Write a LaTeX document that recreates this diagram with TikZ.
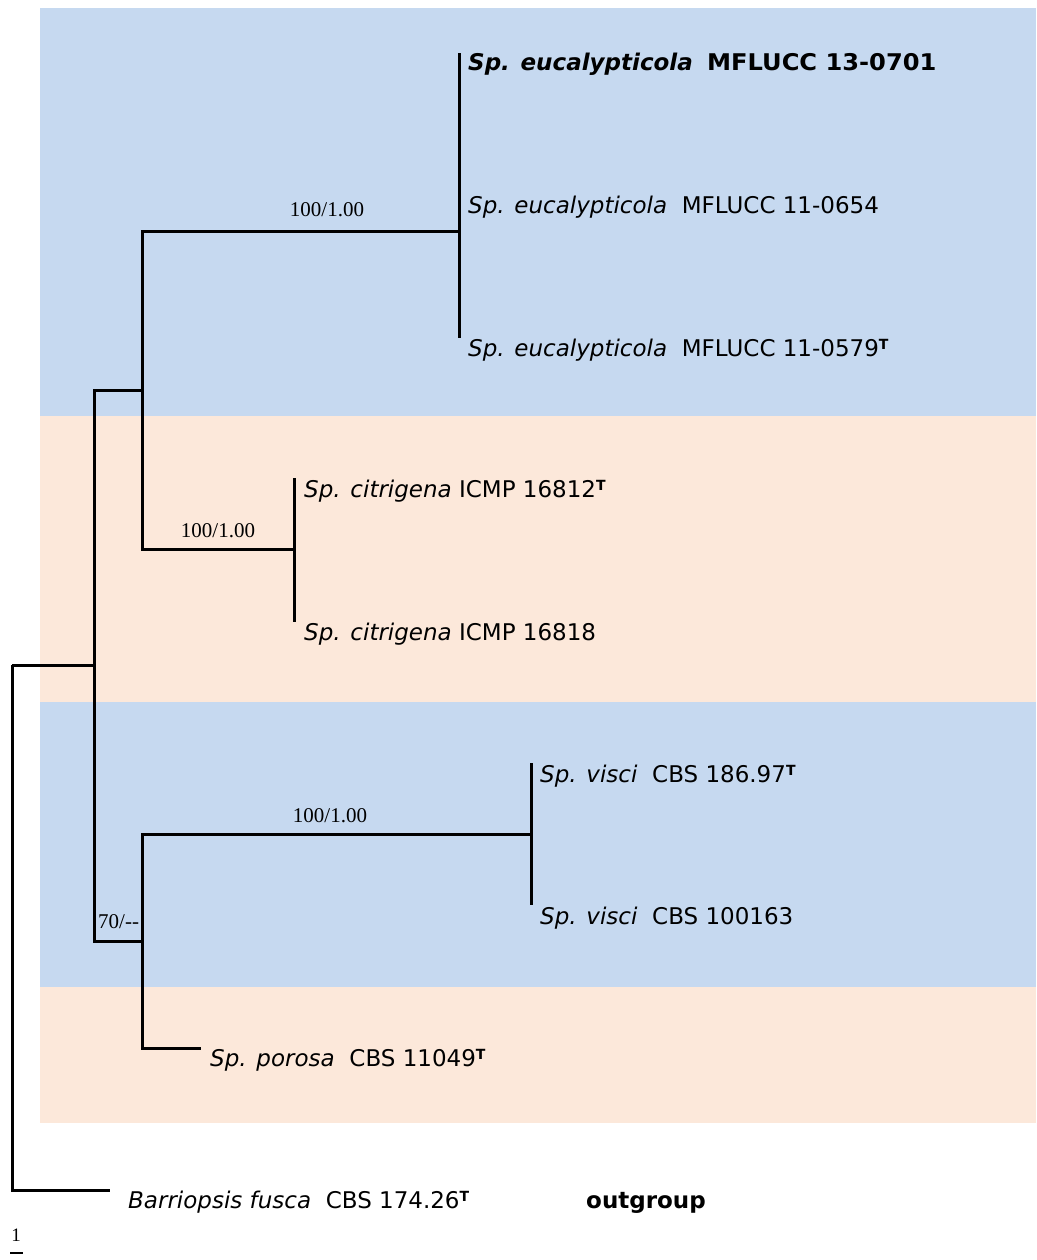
\documentclass[tikz,border=0pt]{standalone}
\usepackage{fontspec}
\setmainfont{DejaVu Sans}
\newfontfamily\supfont{Liberation Serif}
\definecolor{bandblue}{RGB}{198,217,240}
\definecolor{bandpeach}{RGB}{252,232,218}
\newcommand\typeT{\raisebox{0.55ex}{\fontsize{14}{14}\selectfont\bfseries T}}
\begin{document}
\begin{tikzpicture}[x=1pt,y=-1pt,
  branch/.style={line width=3pt, line join=miter},
  leaf/.style={anchor=base west, inner sep=0pt, font=\fontsize{23}{27}\selectfont},
  support/.style={anchor=base, inner sep=0pt, font=\supfont\fontsize{21}{24}\selectfont}]
\useasboundingbox (0,0) rectangle (1036,1260);
% background bands
\fill[bandblue]  (40,8)   rectangle (1036,416);
\fill[bandpeach] (40,416) rectangle (1036,702);
\fill[bandblue]  (40,702) rectangle (1036,987);
\fill[bandpeach] (40,987) rectangle (1036,1123);
% tree coordinates
\coordinate (root) at (12,665);
\coordinate (nA) at (94,665);
\coordinate (nU) at (142,390);
\coordinate (nL) at (142,941);
\coordinate (nE) at (459,231);
\coordinate (nC) at (294,549);
\coordinate (nV) at (531,834);
\coordinate (e1) at (459,53);
\coordinate (e2) at (459,196);
\coordinate (e3) at (459,338);
\coordinate (c1) at (294,478);
\coordinate (c2) at (294,622);
\coordinate (v1) at (531,763);
\coordinate (v2) at (531,905);
\coordinate (p1) at (201,1048);
\coordinate (b1) at (110,1190);
% branches
\draw[branch] (root) |- (nA);
\draw[branch] (root) |- (b1);
\draw[branch] (nA) |- (nU);
\draw[branch] (nA) |- (nL);
\draw[branch] (nU) |- (nE);
\draw[branch] (nU) |- (nC);
\draw[branch] (nE) -- (e1);
\draw[branch] (nE) -- (e2);
\draw[branch] (nE) -- (e3);
\draw[branch] (nC) -- (c1);
\draw[branch] (nC) -- (c2);
\draw[branch] (nL) |- (nV);
\draw[branch] (nL) |- (p1);
\draw[branch] (nV) -- (v1);
\draw[branch] (nV) -- (v2);
% leaf labels
\node[leaf] (tE1) at (468,71) {\textbf{\textit{Sp. eucalypticola}}\hspace{0.62em}\scalebox{1.05}[1]{\textbf{MFLUCC 13-0701}}};
\node[leaf] (tE2) at (468,214) {\textit{Sp. eucalypticola}\hspace{0.64em}MFLUCC 11-0654};
\node[leaf] (tE3) at (468,356) {\textit{Sp. eucalypticola}\hspace{0.64em}MFLUCC 11-0579\typeT};
\node[leaf] (tC1) at (304,497) {\textit{Sp. citrigena} ICMP 16812\typeT};
\node[leaf] (tC2) at (304,640) {\textit{Sp. citrigena} ICMP 16818};
\node[leaf] (tV1) at (540,782) {\textit{Sp. visci}\hspace{0.64em}CBS 186.97\typeT};
\node[leaf] (tV2) at (540,924) {\textit{Sp. visci}\hspace{0.64em}CBS 100163};
\node[leaf] (tP1) at (210,1066) {\textit{Sp. porosa}\hspace{0.64em}CBS 11049\typeT};
\node[leaf] (tB1) at (128,1208) {\textit{Barriopsis fusca}\hspace{0.64em}CBS 174.26\typeT};
\node[leaf] (tOut) at (586,1208) {\textbf{outgroup}};
% support values
\node[support] (sE) at (327,216) {100/1.00};
\node[support] (sC) at (218,537) {100/1.00};
\node[support] (sV) at (330,822) {100/1.00};
\node[support, anchor=base west] (sL) at (98,928) {70/--};
% scale bar
\coordinate (sb1) at (10,1253);
\coordinate (sb2) at (23,1253);
\draw[line width=2pt] (sb1) -- (sb2);
\node[support] (sbl) at (16,1241) {\fontsize{19}{20}\selectfont 1};
\end{tikzpicture}
\end{document}
